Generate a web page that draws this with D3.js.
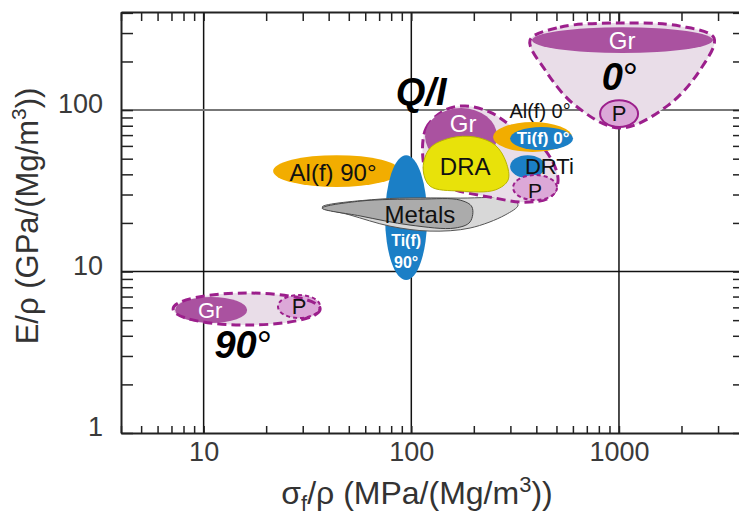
<!DOCTYPE html>
<html>
<head>
<meta charset="utf-8">
<script src="https://cdn.jsdelivr.net/npm/d3@7"></script>
<style>
  body { margin: 0; background: #fff; }
  text { font-family: "Liberation Sans", Arial, Helvetica, sans-serif; }
</style>
</head>
<body>
<svg id="chart" width="739" height="518"></svg>
<script>
// axes (log-log): specific strength vs specific stiffness
const xDomain = [4, 4000];
const yDomain = [1, 405];
const xTickLabels = [10, 100, 1000];
const yTickLabels = [1, 10, 100];
const xGrid = [10, 100, 1000];
const yGrid = [10, 100];

// colours
const purple = "#aa52a0", lilac = "#e9dde8", dash = "#9c1f8c", pink = "#dca8d8";
const blue = "#1b7fc6", orange = "#f2ad00", yellow = "#e8e20a";

// 90 degree composites (ellipse extents in data units)
const outline90 = { x: [7.13, 36.4], y: [4.66, 7.36] };
const shapes90 = [
  { name: "Gr", x: [7.29, 16.2], y: [4.80, 6.95], fill: purple },
  { name: "P", x: [22.8, 36.4], y: [5.15, 7.15], fill: pink, stroke: dash, dashed: true }
];

// 0 degree composites
const outline0 = [[373, 271], [520, 326], [1011, 346], [1968, 331], [2870, 279],
  [2456, 177], [1723, 107], [1011, 77.4], [615, 107], [441, 177]];
const shapes0 = [
  { name: "Gr", x: [381, 2838], y: [226, 326], fill: purple },
  { name: "P", x: [811, 1236], y: [78.5, 115], fill: pink, stroke: dash }
];

// fibres + metals
const metalsLight = [[37.2, 25.1], [70.7, 28.1], [171.8, 28.5], [299, 28.1], [326.6, 25.8],
  [283, 22.4], [191.9, 18.6], [123, 17.8], [79, 19.1], [50.7, 22.4]];
const metalsDark = [[37.2, 24.7], [56.7, 27.3], [110.2, 28.1], [171.8, 27.7], [196, 25.1],
  [191.9, 20.3], [162.5, 18.6], [98.6, 19.4], [56.7, 22.1]];
const fibres90 = [
  { name: "Al(f) 90", x: [21.6, 88.4], y: [33.4, 52.6], fill: orange },
  { name: "Ti(f) 90", x: [74.8, 119.2], y: [8.86, 52.6], fill: blue }
];

// quasi-isotropic composites
const outlineQI = [[114, 49], [117.9, 77.4], [145.5, 100], [181.7, 106], [239, 97.2],
  [299, 80.7], [441, 56.5], [509, 36.9], [466, 28.9], [353, 26.9], [239, 28.9], [162.5, 32], [123, 36.9]];
const draShape = [[114, 43.7], [123.2, 58.2], [153.8, 67.1], [202.9, 68.1], [253.4, 60.7],
  [286, 47.6], [292.4, 36.9], [253.4, 32], [171.8, 31.5], [123.2, 33.8]];
const shapesQI = [
  { name: "Al(f) 0", x: [247.6, 594], y: [55, 84.3], fill: orange },
  { name: "Ti(f) 0", x: [299, 601], y: [56.5, 78.5], fill: blue },
  { name: "DRTi", x: [299, 441], y: [37.9, 52.6], fill: blue },
  { name: "P", x: [309, 503], y: [27.7, 39.6], fill: pink, stroke: dash, dashed: true }
];
const grDomeQI = { x: [116.5, 258.8], y: [45.7, 103] };

// labels [text, x, y, size, colour, weight, italic]
const labels = [
  ["Gr", 1035, 271, 24, "#fff", "normal", false],
  ["0", 1010, 160, 38, "#000", "bold", true],
  ["P", 1001, 95.8, 22, "#111", "normal", false],
  ["Q/I", 111.5, 129, 38, "#000", "bold", true],
  ["Gr", 177.6, 83.1, 24, "#fff", "normal", false],
  ["DRA", 181.7, 45, 24, "#111", "normal", false],
  ["Al(f) 0°", 417, 98.6, 20, "#111", "normal", false],
  ["Ti(f) 0°", 431, 67.1, 17, "#fff", "bold", false],
  ["DRTi", 462, 45.2, 22, "#111", "normal", false],
  ["P", 394.6, 32.2, 21, "#111", "normal", false],
  ["Al(f) 90°", 42, 41.3, 24, "#111", "normal", false],
  ["Ti(f)", 94.4, 15.7, 16, "#fff", "bold", false],
  ["90°", 94.4, 11.5, 16, "#fff", "bold", false],
  ["Metals", 110, 22.7, 24, "#111", "normal", false],
  ["Gr", 10.75, 5.78, 22, "#fff", "normal", false],
  ["P", 28.8, 6.11, 22, "#111", "normal", false],
  ["90", 15.5, 3.51, 38, "#000", "bold", true]
];

const svg = d3.select("#chart");
svg.append("rect").attr("width", 739).attr("height", 518).attr("fill", "#fff");

const x = d3.scaleLog().domain(xDomain).range([121, 744]);
const y = d3.scaleLog().domain(yDomain).range([433, 12]);

// grid
svg.selectAll(".vgrid").data(xGrid).join("line")
  .attr("x1", d => x(d)).attr("x2", d => x(d))
  .attr("y1", y.range()[1]).attr("y2", y.range()[0])
  .attr("stroke", "#111").attr("stroke-width", 1.5);
svg.selectAll(".hgrid").data(yGrid).join("line")
  .attr("x1", x.range()[0]).attr("x2", x.range()[1])
  .attr("y1", d => y(d)).attr("y2", d => y(d))
  .attr("stroke", d => d === 100 ? "#777" : "#111").attr("stroke-width", d => d === 100 ? 2 : 1.5);

const g = svg.append("g");

function ellipse(d) {
  const x0 = x(d.x[0]), x1 = x(d.x[1]), y0 = y(d.y[0]), y1 = y(d.y[1]);
  const e = g.append("ellipse")
    .attr("cx", (x0 + x1) / 2).attr("cy", (y0 + y1) / 2)
    .attr("rx", Math.abs(x1 - x0) / 2).attr("ry", Math.abs(y1 - y0) / 2)
    .attr("fill", d.fill || "none");
  if (d.stroke) {
    e.attr("stroke", d.stroke).attr("stroke-width", 2);
    if (d.dashed) e.attr("stroke-dasharray", "4,3");
  }
  return e;
}

const closed = d3.line().x(d => x(d[0])).y(d => y(d[1])).curve(d3.curveCatmullRomClosed.alpha(0.5));

// 90 degree group
ellipse({ x: outline90.x, y: outline90.y, fill: lilac });
shapes90.forEach(ellipse);
ellipse({ x: outline90.x, y: outline90.y, fill: "none" })
  .attr("stroke", dash).attr("stroke-width", 3).attr("stroke-dasharray", "9,5");

// 0 degree group
g.append("path").attr("d", closed(outline0)).attr("fill", lilac);
shapes0.forEach(ellipse);
g.append("path").attr("d", closed(outline0)).attr("fill", "none")
  .attr("stroke", dash).attr("stroke-width", 3).attr("stroke-dasharray", "9,5");

// fibres and metals
fibres90.forEach(ellipse);
g.append("path").attr("d", closed(metalsLight)).attr("fill", "#d8d8d8").attr("stroke", "#555").attr("stroke-width", 1);
g.append("path").attr("d", closed(metalsDark)).attr("fill", "#ababab").attr("stroke", "#444").attr("stroke-width", 1);

// quasi-isotropic group
g.append("path").attr("d", closed(outlineQI)).attr("fill", lilac)
  .attr("stroke", dash).attr("stroke-width", 3).attr("stroke-dasharray", "9,5");
ellipse({ x: grDomeQI.x, y: grDomeQI.y, fill: purple });
g.append("path").attr("d", closed(draShape)).attr("fill", yellow).attr("stroke", "#b8b400").attr("stroke-width", 1);
shapesQI.forEach(ellipse);

// labels
labels.forEach(([t, lx, ly, size, fill, weight, italic]) => {
  const txt = g.append("text")
    .attr("x", x(lx)).attr("y", y(ly))
    .attr("text-anchor", "middle").attr("dominant-baseline", "central")
    .attr("font-size", size).attr("fill", fill)
    .attr("font-weight", weight).attr("font-style", italic ? "italic" : "normal");
  txt.append("tspan").text(t);
  if (italic && t !== "Q/I") {
    txt.append("tspan").attr("font-weight", "normal").attr("font-style", "normal").text("°");
  }
});

// axes with inward ticks
const tickStyle = sel => {
  sel.select(".domain").attr("stroke", "#222").attr("stroke-width", 2);
  sel.selectAll(".tick line").attr("stroke", "#222").attr("stroke-width", 1.5);
};
svg.append("g").attr("transform", `translate(0,${y.range()[0]})`)
  .call(d3.axisBottom(x).tickValues(x.ticks()).tickSize(-7).tickSizeOuter(0).tickFormat(""))
  .call(tickStyle);
svg.append("g").attr("transform", `translate(0,${y.range()[1]})`)
  .call(d3.axisTop(x).tickValues(x.ticks()).tickSize(-9).tickSizeOuter(0).tickFormat(""))
  .call(tickStyle);
svg.append("g").attr("transform", `translate(${x.range()[0]},0)`)
  .call(d3.axisLeft(y).tickValues(y.ticks()).tickSize(-12).tickSizeOuter(0).tickFormat(""))
  .call(tickStyle);
svg.append("g").attr("transform", `translate(${x.range()[1]},0)`)
  .call(d3.axisRight(y).tickValues(y.ticks()).tickSize(-11).tickSizeOuter(0).tickFormat(""))
  .call(tickStyle);

// tick labels
const yl = svg.append("g").attr("transform", `translate(${x.range()[0]},0)`)
  .call(d3.axisLeft(y).tickValues(yTickLabels).tickSize(0).tickPadding(18).tickFormat(d3.format("d")));
yl.select(".domain").remove();
yl.selectAll("text").attr("font-size", 27).attr("fill", "#3a3a3a").attr("dy", "0.1em")
  .attr("font-family", "Liberation Sans, Arial, sans-serif");

const xl = svg.append("g").attr("transform", `translate(0,${y.range()[0]})`)
  .call(d3.axisBottom(x).tickValues(xTickLabels).tickSize(0).tickPadding(9).tickFormat(d3.format("d")));
xl.select(".domain").remove();
xl.selectAll("text").attr("font-size", 27).attr("fill", "#3a3a3a")
  .attr("font-family", "Liberation Sans, Arial, sans-serif");

// axis titles
const xt = svg.append("text").attr("x", 417).attr("y", 504).attr("text-anchor", "middle")
  .attr("font-size", 32).attr("fill", "#333");
xt.append("tspan").text("σ");
xt.append("tspan").attr("font-size", 22).attr("dy", 7).text("f");
xt.append("tspan").attr("dy", -7).text("/ρ (MPa/(Mg/m");
xt.append("tspan").attr("font-size", 22).attr("dy", -12).text("3");
xt.append("tspan").attr("dy", 12).text("))");

const ytl = svg.append("text").attr("transform", "translate(38,216) rotate(-90)")
  .attr("text-anchor", "middle").attr("font-size", 31).attr("fill", "#333");
ytl.append("tspan").text("E/ρ (GPa/(Mg/m");
ytl.append("tspan").attr("font-size", 21).attr("dy", -12).text("3");
ytl.append("tspan").attr("dy", 12).text("))");
</script>
</body>
</html>
